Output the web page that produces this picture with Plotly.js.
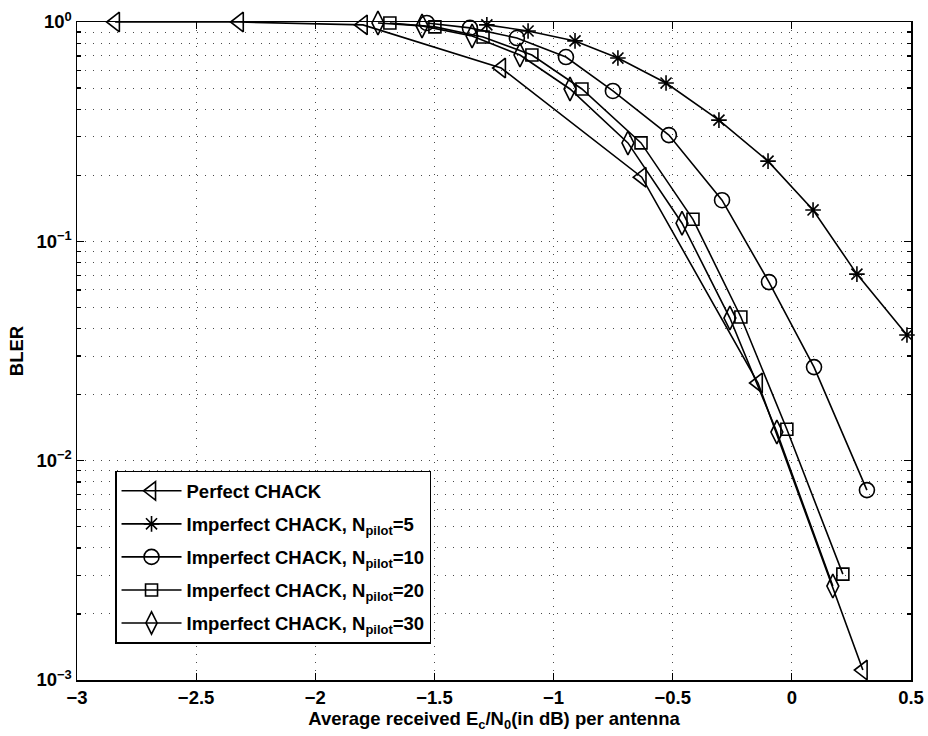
<!DOCTYPE html>
<html>
<head>
<meta charset="utf-8">
<script src="https://cdn.plot.ly/plotly-3.0.1.min.js"></script>
<style>html,body{margin:0;padding:0;background:#fff;}#chart{width:928px;height:736px;}</style>
</head>
<body>
<div id="chart"></div>
<script>
// Data
const perfectX = [-2.84, -2.32, -1.80, -1.22, -0.63, -0.142, 0.298];
const perfectY = [1.0, 1.0, 0.97, 0.617, 0.196, 0.0226, 0.00111];

const pilot5X = [-1.28, -1.107, -0.910, -0.730, -0.528, -0.306, -0.100, 0.089, 0.273, 0.483];
const pilot5Y = [0.97, 0.91, 0.82, 0.685, 0.527, 0.357, 0.232, 0.139, 0.0709, 0.0374];

const pilot10X = [-1.532, -1.351, -1.154, -0.948, -0.751, -0.516, -0.293, -0.096, 0.093, 0.315];
const pilot10Y = [0.99, 0.94, 0.845, 0.692, 0.485, 0.305, 0.154, 0.0652, 0.0267, 0.00734];

const pilot20X = [-1.687, -1.498, -1.296, -1.091, -0.881, -0.633, -0.415, -0.214, -0.021, 0.214];
const pilot20Y = [0.99, 0.95, 0.854, 0.707, 0.495, 0.281, 0.126, 0.0452, 0.0139, 0.00304];

const pilot30X = [-1.737, -1.552, -1.342, -1.141, -0.931, -0.688, -0.461, -0.260, -0.063, 0.172];
const pilot30Y = [0.99, 0.96, 0.863, 0.707, 0.495, 0.281, 0.121, 0.0447, 0.0135, 0.00268];

const seriesNames = [
  "<b>Perfect CHACK</b>",
  "<b>Imperfect CHACK, N<sub>pilot</sub>=5</b>",
  "<b>Imperfect CHACK, N<sub>pilot</sub>=10</b>",
  "<b>Imperfect CHACK, N<sub>pilot</sub>=20</b>",
  "<b>Imperfect CHACK, N<sub>pilot</sub>=30</b>"
];

const yTickVals = [0.001, 0.01, 0.1, 1];
const yTickText = ["<b>10<sup>−3</sup></b>", "<b>10<sup>−2</sup></b>", "<b>10<sup>−1</sup></b>", "<b>10<sup>0</sup></b>"];

const FONT = "Liberation Sans, Arial, Helvetica, sans-serif";
const GRID = '#4a4a4a';
const DASH = '1px,7px';

function mk(x, y, name, symbol, size, g) {
  return {
    x: x, y: y, name: name, type: 'scatter', mode: 'lines+markers',
    legendgroup: g,
    cliponaxis: false,
    line: {color: '#000', width: 1.6},
    marker: {symbol: symbol, size: size, color: '#000', line: {color: '#000', width: 1.6}}
  };
}

const traces = [
  mk(perfectX, perfectY, seriesNames[0], 'triangle-left-open', 17, 'a'),
  mk(pilot5X, pilot5Y, seriesNames[1], 'asterisk-open', 13, 'b'),
  mk(pilot10X, pilot10Y, seriesNames[2], 'circle-open', 15, 'c'),
  mk(pilot20X, pilot20Y, seriesNames[3], 'square-open', 12, 'd'),
  mk(pilot30X, pilot30Y, seriesNames[4], 'diamond-tall-open', 17, 'e')
];

const layout = {
  width: 928, height: 736,
  margin: {l: 77, r: 17, t: 22, b: 56},
  paper_bgcolor: '#fff', plot_bgcolor: '#fff',
  font: {family: FONT, color: '#000', size: 18.5},
  showlegend: true,
  legend: {
    x: 0.0456, y: 0.318, xanchor: 'left', yanchor: 'top',
    bgcolor: '#fff', bordercolor: '#000', borderwidth: 1.5,
    font: {family: FONT, size: 18.5, color: '#000'},
    tracegroupgap: 6, traceorder: 'grouped', itemwidth: 60
  },
  xaxis: {
    range: [-3, 0.5], dtick: 0.5, tick0: -3,
    showline: true, linecolor: '#000', linewidth: 1.5, mirror: 'ticks',
    ticks: 'inside', ticklen: 7, tickcolor: '#000', tickwidth: 1.2,
    showgrid: true, gridcolor: GRID, griddash: DASH, gridwidth: 1,
    zeroline: false,
    tickfont: {family: FONT, size: 18.5, weight: 'bold', color: '#000'},
    title: {text: "<b>Average received E<sub>c</sub>/N<sub>0</sub>(in dB) per antenna</b>", font: {family: FONT, size: 18.5, color: '#000'}, standoff: 0}
  },
  yaxis: {
    type: 'log', range: [-3, 0],
    tickvals: yTickVals, ticktext: yTickText,
    showline: true, linecolor: '#000', linewidth: 1.5, mirror: 'ticks',
    ticks: 'inside', ticklen: 7, tickcolor: '#000', tickwidth: 1.2,
    showgrid: true, gridcolor: GRID, griddash: DASH, gridwidth: 1,
    zeroline: false,
    tickfont: {family: FONT, size: 18.5, color: '#000'},
    minor: {dtick: 'D1', ticks: 'inside', ticklen: 4, tickcolor: '#000', showgrid: true, gridcolor: GRID, griddash: DASH, gridwidth: 1},
    title: {text: "<b>BLER</b>", font: {family: FONT, size: 18.5, color: '#000'}, standoff: 8}
  }
};

Plotly.newPlot('chart', traces, layout, {displayModeBar: false, staticPlot: true});
</script>
</body>
</html>
